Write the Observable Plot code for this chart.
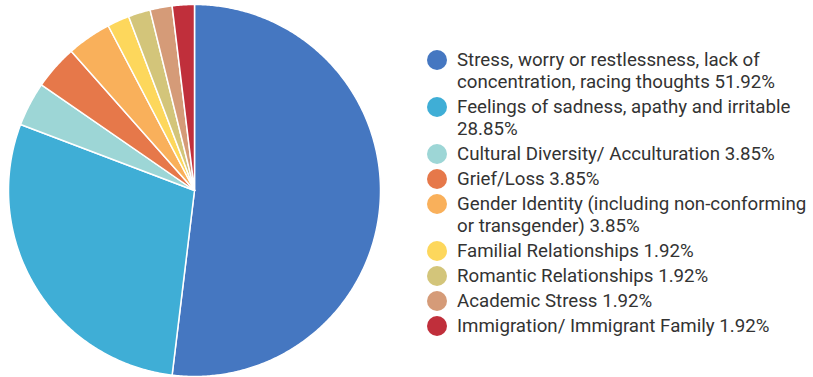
<!DOCTYPE html>
<html>
<head>
<meta charset="utf-8">
<script src="https://cdn.jsdelivr.net/npm/d3@7"></script>
<script src="https://cdn.jsdelivr.net/npm/@observablehq/plot@0.6"></script>
<style>
  html, body { margin: 0; padding: 0; background: #fff; }
  #wrap { position: relative; width: 813px; height: 377px; font-family: Roboto, "Noto Sans", sans-serif; }
  #legend { position: absolute; left: 427px; top: 49px; width: 386px; color: #333; font-size: 18.7px; line-height: 22px; }
  .item { position: relative; padding-left: 30px; margin-bottom: 3px; }
  .sw { position: absolute; left: 0; top: 1px; width: 20px; height: 20px; border-radius: 50%; }
</style>
</head>
<body>
<div id="wrap"></div>
<script>
const categories = [
  "Stress, worry or restlessness, lack of concentration, racing thoughts",
  "Feelings of sadness, apathy and irritable",
  "Cultural Diversity/ Acculturation",
  "Grief/Loss",
  "Gender Identity (including non-conforming or transgender)",
  "Familial Relationships",
  "Romantic Relationships",
  "Academic Stress",
  "Immigration/ Immigrant Family"
];
const values = [51.92, 28.85, 3.85, 3.85, 3.85, 1.92, 1.92, 1.92, 1.92];
const colors = ["#4577c1", "#3faed6", "#9dd6d6", "#e6784a", "#f9b05b", "#fdd75c", "#d3c57a", "#d59b78", "#c02f3b"];

// Build slice outlines (in unit data space) from d3.pie angles
const arcs = d3.pie().sort(null).value(d => d)(values);
const pts = [];
arcs.forEach((a, i) => {
  const cat = categories[i];
  const n = Math.max(4, Math.ceil((a.endAngle - a.startAngle) / (Math.PI / 360)));
  pts.push({cat, x: 0, y: 0});
  for (let k = 0; k <= n; k++) {
    const t = a.startAngle + (a.endAngle - a.startAngle) * k / n;
    pts.push({cat, x: Math.sin(t), y: Math.cos(t)});
  }
  pts.push({cat, x: 0, y: 0});
});

const chart = Plot.plot({
  width: 813,
  height: 377,
  marginLeft: 8,
  marginRight: 433,
  marginTop: 4,
  marginBottom: 1,
  x: {domain: [-1, 1], axis: null},
  y: {domain: [-1, 1], axis: null},
  color: {domain: categories, range: colors},
  marks: [
    Plot.line(pts, {x: "x", y: "y", z: "cat", fill: "cat", stroke: "white", strokeWidth: 1.5, strokeLinejoin: "round", curve: "linear"})
  ]
});
const wrap = document.getElementById("wrap");
wrap.appendChild(chart);

const legend = document.createElement("div");
legend.id = "legend";
categories.forEach((c, i) => {
  const item = document.createElement("div");
  item.className = "item";
  const sw = document.createElement("span");
  sw.className = "sw";
  sw.style.background = colors[i];
  item.appendChild(sw);
  item.appendChild(document.createTextNode(c + " " + values[i].toFixed(2) + "%"));
  legend.appendChild(item);
});
wrap.appendChild(legend);
</script>
</body>
</html>
